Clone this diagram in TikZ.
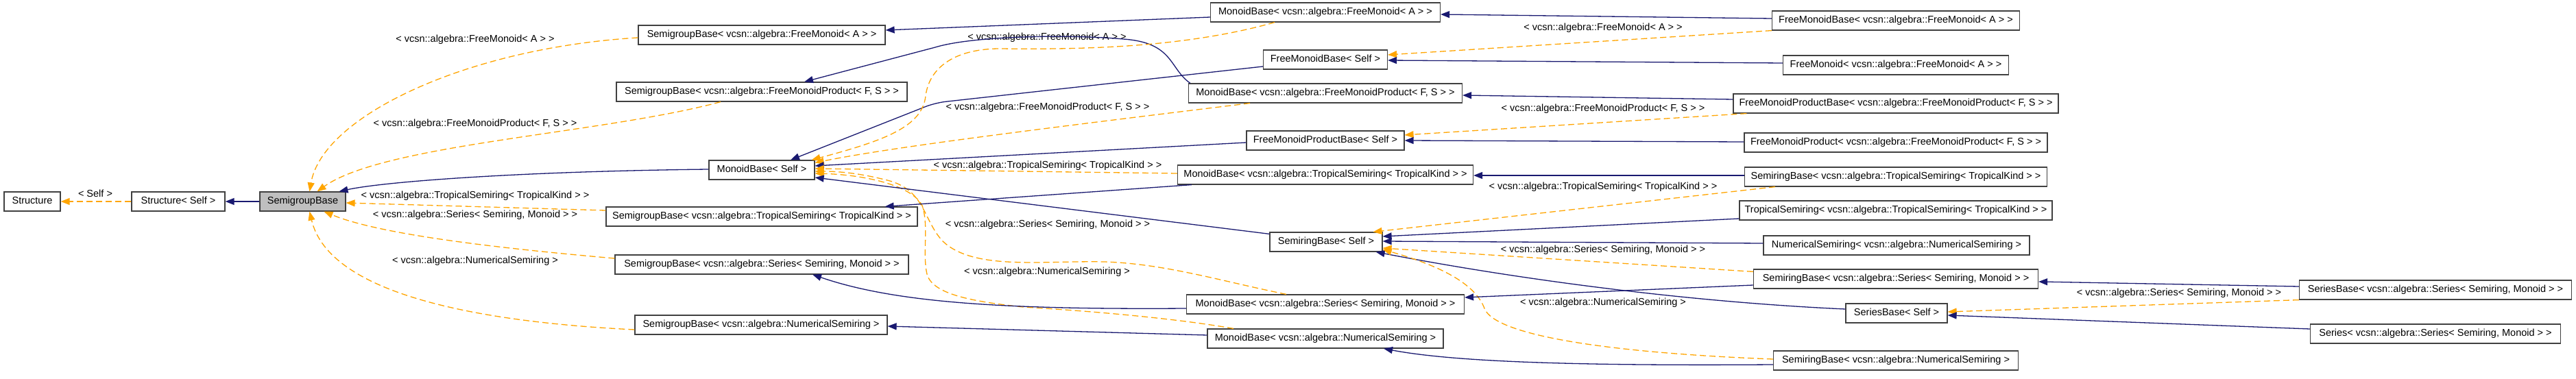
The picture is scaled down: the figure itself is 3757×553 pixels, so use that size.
\documentclass[tikz,border=0pt]{standalone}
\usepackage{fontspec}
\setmainfont{Liberation Sans}
\usetikzlibrary{arrows.meta,calc}
\definecolor{edgeblue}{HTML}{191970}
\definecolor{edgeorange}{HTML}{FFA500}
\definecolor{boxgray}{HTML}{BFBFBF}
\newcommand{\nf}{\fontsize{14.5}{17}\selectfont}
\newcommand{\lblFM}{< vcsn::algebra::FreeMonoid< A > >}
\newcommand{\lblFMP}{< vcsn::algebra::FreeMonoidProduct< F, S > >}
\newcommand{\lblTrop}{< vcsn::algebra::TropicalSemiring< TropicalKind > >}
\newcommand{\lblSer}{< vcsn::algebra::Series< Semiring, Monoid > >}
\newcommand{\lblNum}{< vcsn::algebra::NumericalSemiring >}
\begin{document}
\begin{tikzpicture}[x=1pt,y=-1pt,
  cls/.style={draw=black!75, line width=1.2pt, fill=white, minimum height=28pt, inner xsep=0pt, inner ysep=0pt, text height=10.5pt, text depth=3pt, font=\nf, anchor=center},
  lbl/.style={font=\nf, inner sep=0pt, text height=10.5pt, text depth=3pt},
  inh/.style={draw=edgeblue, line width=1.3pt, -{Triangle[length=13pt,width=10pt]}},
  tpl/.style={draw=edgeorange, line width=1.3pt, dash pattern=on 9pt off 5pt, -{Triangle[length=13pt,width=10pt]}},
]
\fill[white] (0,0) rectangle (3757,553);
\useasboundingbox (0,0) rectangle (3757,553);

% nodes
\node[cls, minimum width=82pt] (st) at (47,294) {Structure};
\node[cls, minimum width=136pt] (sts) at (260,294) {Structure< Self >};
\node[cls, fill=boxgray, minimum width=125pt] (sg) at (441.5,294) {SemigroupBase};
\node[cls, minimum width=360pt] (sgfm) at (1111,51) {SemigroupBase\lblFM};
\node[cls, minimum width=424pt] (sgfmp) at (1111,134) {SemigroupBase\lblFMP};
\node[cls, minimum width=154pt] (ms) at (1111,248) {MonoidBase< Self >};
\node[cls, minimum width=454pt] (sgtr) at (1111,316) {SemigroupBase\lblTrop};
\node[cls, minimum width=428pt] (sgse) at (1111,386) {SemigroupBase\lblSer};
\node[cls, minimum width=368pt] (sgnu) at (1110,474) {SemigroupBase\lblNum};
\node[cls, minimum width=335pt] (mbfm) at (1933,18) {MonoidBase\lblFM};
\node[cls, minimum width=181pt] (fmbs) at (1933,87) {FreeMonoidBase< Self >};
\node[cls, minimum width=399pt] (mbfmp) at (1933,136) {MonoidBase\lblFMP};
\node[cls, minimum width=230pt] (fmpbs) at (1933,205) {FreeMonoidProductBase< Self >};
\node[cls, minimum width=431pt] (mbtr) at (1933,255) {MonoidBase\lblTrop};
\node[cls, minimum width=164pt] (srs) at (1934,353) {SemiringBase< Self >};
\node[cls, minimum width=405pt] (mbse) at (1933,444) {MonoidBase\lblSer};
\node[cls, minimum width=344pt] (mbnu) at (1933,494) {MonoidBase\lblNum};
\node[cls, minimum width=361pt] (fmbfm) at (2765,30) {FreeMonoidBase\lblFM};
\node[cls, minimum width=329pt] (fmfm) at (2765,95) {FreeMonoid\lblFM};
\node[cls, minimum width=474pt] (fmpbfmp) at (2765,151) {FreeMonoidProductBase\lblFMP};
\node[cls, minimum width=442pt] (fmpfmp) at (2765,208) {FreeMonoidProduct\lblFMP};
\node[cls, minimum width=441pt] (srtr) at (2765,258) {SemiringBase\lblTrop};
\node[cls, minimum width=456pt] (trtr) at (2765,307) {TropicalSemiring\lblTrop};
\node[cls, minimum width=388pt] (nunu) at (2766,358) {NumericalSemiring\lblNum};
\node[cls, minimum width=415pt] (srse) at (2765,407) {SemiringBase\lblSer};
\node[cls, minimum width=148pt] (sbs) at (2766,457) {SeriesBase< Self >};
\node[cls, minimum width=357pt] (srnu) at (2765,526) {SemiringBase\lblNum};
\node[cls, minimum width=397pt] (sbse) at (3552,423) {SeriesBase\lblSer};
\node[cls, minimum width=365pt] (sese) at (3552,487) {Series\lblSer};

% edge labels
\node[lbl] (lself) at (139,284) {< Self >};
\node[lbl] (la1) at (693,58) {\lblFM};
\node[lbl] (la2) at (693,181) {\lblFMP};
\node[lbl] (la3) at (693,286) {\lblTrop};
\node[lbl] (la4) at (693,314) {\lblSer};
\node[lbl] (la5) at (693,381) {\lblNum};
\node[lbl] (lb1) at (1527,55) {\lblFM};
\node[lbl] (lb2) at (1528,157) {\lblFMP};
\node[lbl] (lb3) at (1528,242) {\lblTrop};
\node[lbl] (lb4) at (1528,328) {\lblSer};
\node[lbl] (lb5) at (1527,397) {\lblNum};
\node[lbl] (lc1) at (2338,41) {\lblFM};
\node[lbl] (lc2) at (2338,159) {\lblFMP};
\node[lbl] (lc3) at (2338,273) {\lblTrop};
\node[lbl] (lc4) at (2338,365) {\lblSer};
\node[lbl] (lc5) at (2338,442) {\lblNum};
\node[lbl] (ld) at (3178,428) {\lblSer};

% edges
\draw[tpl] (sts.west) -- (st.east);
\draw[inh] (sg.west) -- (sts.east);
\draw[tpl] ($(sgfm.west)+(0,4)$) .. controls (680,70) and (470,170) .. ($(sg.north)+(10,0)$);
\draw[tpl] ($(sgfmp.south)+(-60,0)$) .. controls (880,195) and (560,210) .. ($(sg.north)+(21,0)$);
\draw[inh] ($(ms.west)+(0,-1)$) .. controls (760,250) and (560,265) .. ($(sg.north)+(53,0)$);
\draw[tpl] ($(sgtr.west)+(0,-9)$) -- ($(sg.east)+(0,2)$);
\draw[tpl] ($(sgse.west)+(0,-9)$) .. controls (760,365) and (560,345) .. ($(sg.south)+(31,0)$);
\draw[tpl] ($(sgnu.west)+(0,7)$) .. controls (700,470) and (480,430) .. ($(sg.south)+(10,0)$);

\draw[inh] ($(mbfm.west)+(0,7)$) -- ($(sgfm.east)+(0,-7)$);
\draw[inh] ($(mbfmp.north west)+(3,0)$) .. controls (1705,100) and (1712,62) .. (1638,57) .. controls (1560,50) and (1420,52) .. (1364,69) -- ($(sgfmp.north)+(62,0)$);
\draw[inh, rounded corners=15pt] ($(fmbs.west)+(0,10)$) -- (1364,150) -- ($(ms.north)+(42,0)$);
\draw[tpl] ($(mbfm.south)+(-74,0)$) .. controls (1720,72) and (1560,72) .. (1456,71) .. controls (1390,72) and (1355,100) .. (1350,140) .. controls (1345,185) and (1290,205) .. ($(ms.north east)+(-5,0)$);
\draw[tpl] ($(mbfmp.south)+(-110,0)$) .. controls (1500,190) and (1300,215) .. ($(ms.north east)+(0,4)$);
\draw[inh] ($(fmpbs.west)+(0,3)$) -- ($(ms.east)+(0,-6)$);
\draw[tpl] ($(mbtr.west)+(0,-2)$) -- ($(ms.east)+(0,-2)$);
\draw[tpl] ($(mbse.north)+(-57,0)$) .. controls (1780,410) and (1700,385) .. (1611,382) .. controls (1520,380) and (1420,395) .. (1375,352) .. controls (1345,320) and (1350,275) .. (1290,262) .. controls (1250,252) and (1220,250) .. ($(ms.east)+(0,2)$);
\draw[tpl] ($(mbnu.north)+(-134,0)$) .. controls (1700,462) and (1560,452) .. (1492,448) .. controls (1420,440) and (1360,430) .. (1352,400) .. controls (1345,370) and (1355,330) .. (1345,300) .. controls (1330,270) and (1260,255) .. ($(ms.east)+(0,5)$);
\draw[inh] ($(srs.north west)+(0,3)$) -- ($(ms.east)+(0,11)$);

\draw[tpl] ($(srtr.south west)+(45,0)$) -- ($(srs.north east)+(-14,0)$);
\draw[inh] ($(trtr.west)+(0,12)$) -- ($(srs.east)+(0,-8)$);
\draw[inh] ($(nunu.west)+(0,-3)$) -- ($(srs.east)+(0,-1)$);
\draw[tpl] ($(srse.north west)+(0,4)$) -- ($(srs.east)+(0,9)$);
\draw[inh] ($(sbs.west)+(0,-6)$) .. controls (2450,440) and (2200,405) .. ($(srs.south east)+(-10,0)$);
\draw[tpl] ($(srnu.west)+(0,-2)$) .. controls (2350,515) and (2180,490) .. (2165,450) .. controls (2150,410) and (2090,385) .. ($(srs.east)+(0,11)$);

\draw[inh] ($(fmbfm.west)+(0,-3)$) -- ($(mbfm.east)+(0,3)$);
\draw[tpl] (fmbfm.south west) -- ($(fmbs.east)+(0,-7)$);
\draw[inh] ($(fmfm.west)+(0,-3)$) -- ($(fmbs.east)+(0,1)$);
\draw[inh] ($(fmpbfmp.west)+(0,-6)$) -- ($(mbfmp.east)+(0,3)$);
\draw[tpl] ($(fmpbfmp.south west)+(20,0)$) -- ($(fmpbs.east)+(0,-8)$);
\draw[inh] ($(fmpfmp.west)+(0,-1)$) -- (fmpbs.east);
\draw[inh] ($(srtr.west)+(0,-2)$) -- ($(mbtr.east)+(0,1)$);
\draw[inh] ($(srse.west)+(0,9)$) -- ($(mbse.east)+(0,-10)$);
\draw[inh] ($(srnu.west)+(0,6)$) .. controls (2300,534) and (2120,528) .. ($(mbnu.south)+(85,0)$);
\draw[inh] ($(mbse.west)+(0,6)$) .. controls (1450,452) and (1300,440) .. ($(sgse.south)+(74,0)$);
\draw[inh] ($(mbnu.west)+(0,-5)$) -- ($(sgnu.east)+(0,2)$);
\draw[inh] ($(mbtr.south west)+(21,0)$) -- ($(sgtr.north east)+(-48,0)$);
\draw[inh] ($(sbse.west)+(0,-5)$) -- ($(srse.east)+(0,4)$);
\draw[tpl] (sbse.south west) -- ($(sbs.east)+(0,-2)$);
\draw[inh] ($(sese.west)+(0,-7)$) -- ($(sbs.east)+(0,3)$);
\end{tikzpicture}
\end{document}
